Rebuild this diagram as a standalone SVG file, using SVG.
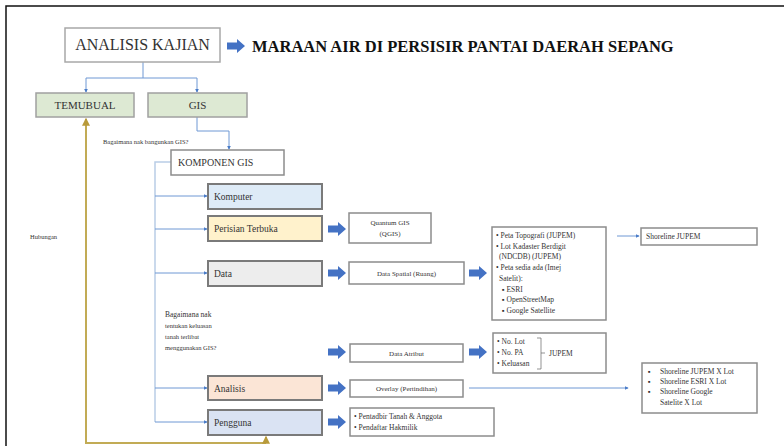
<svg xmlns="http://www.w3.org/2000/svg" width="784" height="446" viewBox="0 0 784 446" font-family="'Liberation Serif', 'DejaVu Serif', serif">
  <style>
    text { font-family: "Liberation Serif", "DejaVu Serif", serif; fill: #333; }
    .box { fill: #fff; stroke: #8c8c8c; stroke-width: 1.5; }
    .comp { stroke: #7a7a7a; stroke-width: 2; }
    .hdr { fill: #dde9d3; stroke: #a0a0a0; stroke-width: 1.5; }
    .wire { fill: none; stroke: #6f98d4; stroke-width: 1; }
    .trunk { fill: none; stroke: #b9cde6; stroke-width: 1.5; }
    .link { fill: none; stroke: #c2ab55; stroke-width: 2; }
    .blk { fill: #4472c4; }
    .sm { font-size: 7.5px; }
  </style>
  <defs>
    <marker id="tip" viewBox="0 0 6 6" refX="5" refY="3" markerWidth="4" markerHeight="4" orient="auto">
      <path d="M0,0 L6,3 L0,6 z" fill="#4a7cc8"/>
    </marker>
    <marker id="tipGold" viewBox="0 0 6 6" refX="5" refY="3" markerWidth="4" markerHeight="4" orient="auto">
      <path d="M0,0 L6,3 L0,6 z" fill="#b89a3a"/>
    </marker>
    <path id="blockArrow" d="M0,-3.5 H10 V-7 L18,0 L10,7 V3.5 H0 z"/>
  </defs>

  <rect width="784" height="446" fill="#fff"/>
  <!-- page frame -->
  <path d="M6,446 V6 H784" fill="none" stroke="#111" stroke-width="1.5"/>

  <!-- connectors -->
  <g id="connectors">
    <path class="wire" d="M143,62 V78" />
    <path class="wire" d="M86,78 H197" />
    <path class="wire" d="M86,78 V92" marker-end="url(#tip)"/>
    <path class="wire" d="M197,78 V92" marker-end="url(#tip)"/>
    <path class="wire" d="M197,117 V131 H229 V149" marker-end="url(#tip)"/>
    <path class="trunk" d="M171,162 H155 V422"/>
    <path class="wire" d="M155,196 H207" marker-end="url(#tip)"/>
    <path class="wire" d="M155,229 H207" marker-end="url(#tip)"/>
    <path class="wire" d="M155,273 H207" marker-end="url(#tip)"/>
    <path class="wire" d="M155,388 H207" marker-end="url(#tip)"/>
    <path class="wire" d="M155,422 H207" marker-end="url(#tip)"/>
    <path class="wire" d="M617,236 H639" marker-end="url(#tip)"/>
    <path class="wire" d="M469,388 H628" marker-end="url(#tip)"/>
    <path class="link" d="M266,443 H86 V119" marker-end="url(#tipGold)"/>
    <path class="link" d="M266,443 V437" marker-end="url(#tipGold)"/>
    <!-- block arrows -->
    <use href="#blockArrow" class="blk" x="227" y="46"/>
    <use href="#blockArrow" class="blk" x="328" y="229"/>
    <use href="#blockArrow" class="blk" x="328" y="273"/>
    <use href="#blockArrow" class="blk" x="328" y="352"/>
    <use href="#blockArrow" class="blk" x="328" y="388"/>
    <use href="#blockArrow" class="blk" x="328" y="422"/>
    <use href="#blockArrow" class="blk" x="469" y="273"/>
    <use href="#blockArrow" class="blk" x="469" y="352"/>
  </g>

  <!-- title -->
  <g id="title">
    <text x="252" y="52" font-size="16.5" font-weight="bold" style="fill:#111">MARAAN AIR DI PERSISIR PANTAI DAERAH SEPANG</text>
  </g>

  <g id="analisis-kajian">
    <rect x="65" y="28" width="155" height="34" fill="#fff" stroke="#a8a8a8" stroke-width="1.5"/>
    <text x="142.5" y="50" font-size="16" text-anchor="middle">ANALISIS KAJIAN</text>
  </g>

  <g id="temubual">
    <rect class="hdr" x="36" y="93" width="98" height="24"/>
    <text x="85" y="109" font-size="11" text-anchor="middle">TEMUBUAL</text>
  </g>
  <g id="gis">
    <rect class="hdr" x="148" y="93" width="99" height="24"/>
    <text x="197.5" y="109" font-size="11" text-anchor="middle">GIS</text>
  </g>

  <text x="103" y="144" font-size="6.5">Bagaimana nak bangunkan GIS?</text>

  <g id="komponen-gis">
    <rect class="box" x="171" y="150" width="113" height="25"/>
    <text x="178" y="166" font-size="10">KOMPONEN GIS</text>
  </g>

  <text x="30" y="239" font-size="6.5">Hubungan</text>

  <g id="komputer">
    <rect class="comp" x="208" y="184" width="114" height="25" fill="#deebf7"/>
    <text x="214" y="200" font-size="9.5">Komputer</text>
  </g>
  <g id="perisian-terbuka">
    <rect class="comp" x="208" y="216" width="114" height="25" fill="#fff2cc"/>
    <text x="214" y="232" font-size="9.5">Perisian Terbuka</text>
  </g>
  <g id="data">
    <rect class="comp" x="208" y="261" width="114" height="25" fill="#ededed"/>
    <text x="214" y="277" font-size="9.5">Data</text>
  </g>
  <g id="analisis">
    <rect class="comp" x="208" y="376" width="114" height="24" fill="#fbe5d6"/>
    <text x="214" y="392" font-size="9.5">Analisis</text>
  </g>
  <g id="pengguna">
    <rect class="comp" x="208" y="410" width="114" height="25" fill="#dae3f3"/>
    <text x="214" y="426" font-size="9.5">Pengguna</text>
  </g>

  <g id="question">
    <text x="165" y="317" font-size="7.5">Bagaimana nak</text>
    <text x="165" y="328" font-size="6.5">tentukan keluasan</text>
    <text x="165" y="339" font-size="6.5">tanah terlibat</text>
    <text x="165" y="350" font-size="6.5">menggunakan GIS?</text>
  </g>

  <g id="quantum-gis">
    <rect class="box" x="349" y="213" width="82" height="30"/>
    <text x="390" y="225" font-size="7" text-anchor="middle">Quantum GIS</text>
    <text x="390" y="236" font-size="7" text-anchor="middle">(QGIS)</text>
  </g>

  <g id="data-spatial">
    <rect class="box" x="349" y="262" width="115" height="22"/>
    <text x="406.5" y="276" font-size="7" text-anchor="middle">Data Spatial (Ruang)</text>
  </g>

  <g id="sumber-spatial">
    <rect class="box" x="492" y="227" width="114" height="93"/>
    <text class="sm" x="496" y="238">• Peta Topografi (JUPEM)</text>
    <text class="sm" x="496" y="249">• Lot Kadaster Berdigit</text>
    <text class="sm" x="499" y="259">(NDCDB) (JUPEM)</text>
    <text class="sm" x="496" y="270">• Peta sedia ada (Imej</text>
    <text class="sm" x="499" y="281">Satelit):</text>
    <text class="sm" x="502" y="292">▪  ESRI</text>
    <text class="sm" x="502" y="302">▪  OpenStreetMap</text>
    <text class="sm" x="502" y="313">▪  Google  Satellite</text>
  </g>

  <g id="shoreline-jupem">
    <rect class="box" x="641" y="228" width="116" height="17"/>
    <text class="sm" x="646" y="239">Shoreline JUPEM</text>
  </g>

  <g id="data-atribut">
    <rect class="box" x="350" y="344" width="113" height="18"/>
    <text x="406.5" y="356" font-size="7" text-anchor="middle">Data Atribut</text>
  </g>

  <g id="atribut-lot">
    <rect class="box" x="493" y="333" width="113" height="40"/>
    <text class="sm" x="497" y="344">• No. Lot</text>
    <text class="sm" x="497" y="355">• No. PA</text>
    <text class="sm" x="497" y="366">• Keluasan</text>
    <path d="M537,338 H541 V369 H537 M541,353 H545" fill="none" stroke="#666" stroke-width="0.7"/>
    <text class="sm" x="549" y="356">JUPEM</text>
  </g>

  <g id="overlay">
    <rect class="box" x="350" y="380" width="113" height="17"/>
    <text x="406.5" y="391" font-size="7" text-anchor="middle">Overlay (Pertindihan)</text>
  </g>

  <g id="shoreline-lot">
    <rect class="box" x="642" y="363" width="115" height="50"/>
    <text class="sm" x="648" y="374">▪</text>
    <text class="sm" x="660" y="374">Shoreline JUPEM X Lot</text>
    <text class="sm" x="648" y="384">▪</text>
    <text class="sm" x="660" y="384">Shoreline ESRI X Lot</text>
    <text class="sm" x="648" y="394">▪</text>
    <text class="sm" x="660" y="394">Shoreline Google</text>
    <text class="sm" x="660" y="405">Satelite X Lot</text>
  </g>

  <g id="pentadbir">
    <rect class="box" x="350" y="408" width="144" height="28"/>
    <text class="sm" x="354" y="419">• Pentadbir Tanah &amp; Anggota</text>
    <text class="sm" x="354" y="430">• Pendaftar Hakmilik</text>
  </g>
</svg>
